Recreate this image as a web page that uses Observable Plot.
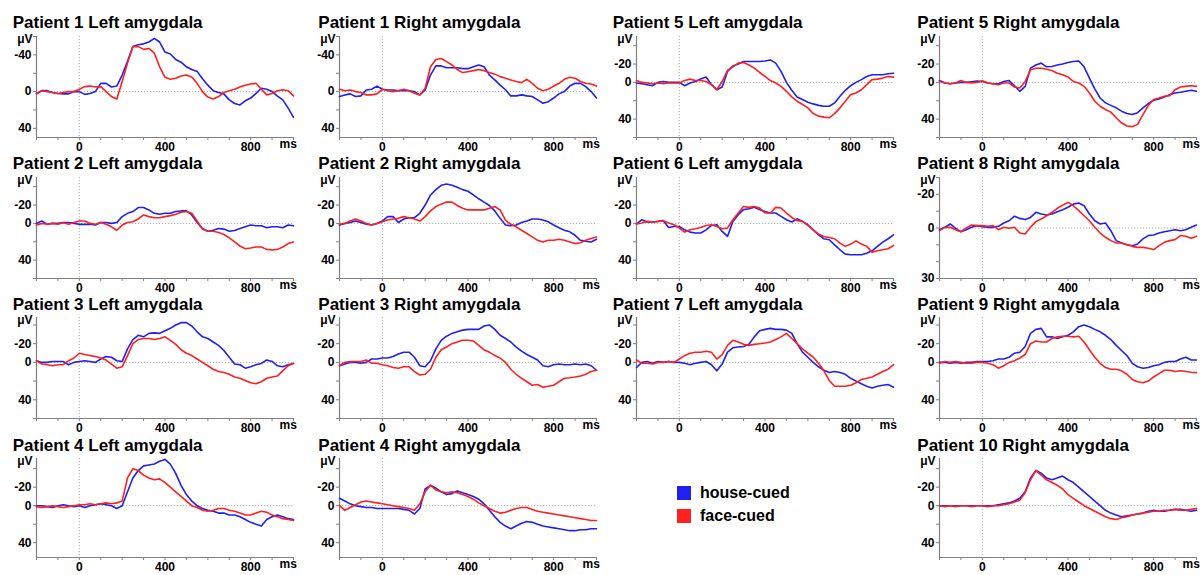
<!DOCTYPE html>
<html><head><meta charset="utf-8">
<script src="https://cdn.jsdelivr.net/npm/d3@7"></script>
<script src="https://cdn.jsdelivr.net/npm/@observablehq/plot@0.6"></script>
<style>
body{margin:0;background:#fff;width:1203px;height:575px;position:relative;overflow:hidden;font-family:"Liberation Sans",Arial,sans-serif;}
.title{position:absolute;font-weight:bold;font-size:17px;line-height:17px;white-space:nowrap;color:#000;}
.panel{position:absolute;}
.panel svg{overflow:visible;}
.leg{position:absolute;font-weight:bold;font-size:16px;line-height:16px;white-space:nowrap;}
.sw{position:absolute;width:14px;height:14px;}
</style></head><body>
<script>
// sample times (ms)
const times = [-200,-175,-150,-125,-100,-75,-50,-25,0,25,50,75,100,125,150,175,200,225,250,275,300,325,350,375,400,425,450,475,500,525,550,575,600,625,650,675,700,725,750,775,800,825,850,875,900,925,950,975,1000];
const xTickValues = [-200,-100,0,100,200,300,400,500,600,700,800,900,1000];
const xTickLabels = [0,400,800];
const seriesNames = ["house-cued","face-cued"];

// values in µV
const p1L_house = [2,-1,-1,1,2,2.5,2.5,0,0, 3,2,0,-9,-9,-5,-6,-18, -33,-49,-51,-52,-54,-58,-54,-43, -41,-35,-32,-27,-24,-22,-14,-7, -1,1,2.5,9,13,14.5,10,7, 2,-3.6,-2.5,0,5,9,18,28];
const p1L_face  = [2.5,-1,0,1,2,1,0,0,-2.5, -5.4,-6,-5,-5.4,0,5.4,8,-11, -31,-49,-49,-46,-47,-42,-27,-15.6, -13.4,-14.5,-17,-18,-16,-9,0,6, 8,5.4,1,-1,-2.5,-5,-7,-8.3, -9,-2.5,3.6,2,-1,-2,-1,4.7];
const p1R_house = [5.4,3.6,2.5,5.4,4.7,-1.8,-2.5,-6,-2.5, -1.8,-1.8,-1,-1,-1,0,3.6,-1.8, -18,-28,-28,-26,-26,-26,-25,-25, -27,-29,-27,-18,-12.7,-7,-2,4.7, 4.7,3.6,4.7,5.4,9,12.7,11,7, 2.5,0,-6,-9,-9,-5.4,0,7];
const p1R_face  = [-2.5,-1,-1.8,0,1,3.6,3.6,2.5,-2.5, -1,0,-1,-2.5,-1,1.8,3.6,-3.6, -27,-35,-36,-32.6,-29,-24,-20.7,-21.7, -22.8,-24,-22.8,-20.7,-19,-16.3,-14.5,-12.7, -11,-9.8,-13.4,-9,-3.6,-1,-2.5,-6, -9,-13.4,-15.6,-14.5,-11,-9,-8.3,-6];
const p5L_house = [0.7,1.4,2.5,3.6,0,-1,0,0,0, 3.6,0.7,-1,-3.6,-5.8,2.5,8,5, -12,-18,-20,-22.7,-22.7,-22.7,-22.7,-23.4, -24.5,-21,-12,0,8.6,15.8,18.7,21.6, 23.4,25,26,26,22.3,15,8.6,3.6, 0,-3,-6.5,-8.3,-8.3,-8.3,-9.4,-10];
const p5L_face  = [-2,0,0.7,1.4,0.7,1.4,0.7,0.7,0.7, -2,-3.6,-2,-2,-1,2.5,8,-1, -13,-17,-21,-21.6,-19,-15.5,-10.8,-6.5, -2,0.7,4.3,9.7,15.8,20.5,24,27.7, 33.8,36.7,37.8,38.5,34,27.7,20.5,13.3, 11.5,8,2.5,-3,-3.6,-4.7,-6.5,-5.8];
const p5R_house = [-2,0.7,1.4,0.7,0,0,-0.7,-1.4,-1, 0.7,1.4,1.4,-1,-2,3.6,9.7,4.3, -15.5,-19,-21,-17,-17.3,-19,-20,-21.6, -22.7,-23.4,-17,-4.7,7,17,22.3,25, 27.7,31.3,33.8,35,33,27.7,23,19.4, 18,15.8,13.3,11.5,10.8,9.7,8.6,9.7];
const p5R_face  = [-1,0.7,1.4,0.7,-2,0,0.7,0,-1.8, 0.7,1.4,2.5,0.7,0.7,5,6,-1, -13.7,-15.5,-15.5,-14.4,-13,-10,-8.3,-5.8, -1,0.7,4.3,11.5,20.5,26,29.5,32.4, 38.5,44,47.5,48.2,45.7,35,25,18.7, 17,15,14.4,8,5,4.3,3.6,4.3];
const p2L_house = [0,-2.6,1,0,0,-1,-1,0,1, 1,1,1.8,-1,-1,0,-1,-7.4, -11,-12.9,-17.3,-17.3,-14.7,-11,-10,-11, -11,-12.9,-13.6,-13.6,-9.2,-1,5.5,8.5, 7.4,5.5,6.2,8.5,7.7,5.5,3.7,1.8, 2.6,2.6,4.8,3.7,3.7,4.8,1.8,2.6];
const p2L_face  = [1.8,0,1,0,1,-0.7,1,-1,-2.6, -2.6,0,1,-1,1,3.7,7.4,1.8, -1,-1.8,-4.8,-9.2,-7.4,-6.2,-6.2,-7.4, -8.5,-10,-12.1,-12.9,-11,-2.6,6.2,8.5, 8.5,10,12.1,15.8,20.2,24.6,27.6,26.8, 25.7,25.7,28.3,29,28.3,25.7,22,20.2];
const p2R_house = [1.8,0,-1,-2.6,-1,1,1.8,0,-2.6, -7.4,-7.4,-1,-4.8,-6.2,-6.2,-11,-20, -31,-36.8,-41.5,-43,-41.5,-39.3,-36.8,-35, -31,-26.8,-23.2,-19.5,-13.6,-5.5,1.8,2.6, 1.8,-1,-2.6,-4.8,-4.8,-3.7,-1.8,1.8, 4.8,7.4,9.2,12.9,18.4,19.5,20.2,17.3];
const p2R_face  = [1,0,-2.6,-4.8,-2.6,0,1.8,0,-1.8, -3.7,-4.8,-5.5,-7.4,-6.2,-4.8,-2.6,-7.4, -13.6,-18.4,-21,-23.2,-23.2,-19.5,-16.5,-14.7, -14.7,-14.7,-14.7,-16.5,-18.4,-14.7,-3.7,1, 3.7,7.4,11,14.7,18.4,20.2,18.4,18.4, 17.3,18.4,20.2,22,21,18.4,16.5,14.7];
const p6L_house = [0.7,-4,-1.5,-1.5,-2,-3,4.4,3.3,3.3, 7,9.5,10.5,10.5,7,2.2,1.5,8.7, 14.2,-2.2,-9.5,-15,-16,-17.5,-15,-13, -11.3,-11.3,-7.6,-4,-1.5,-5,-2.2,1.5, 7,12.4,16.7,17.8,23.3,28.7,33.5,34.2, 34.2,34.2,32.4,29.8,25,20.4,16.7,12.4];
const p6L_face  = [0.7,-0.4,-2.2,-1.5,-2.2,-3,-0.4,1.5,5, 9.5,7,5.8,4.4,2.2,1.5,3.3,5.8, 5,-4,-11.3,-18.5,-17.5,-18.5,-16.7,-11.3, -11.3,-17.5,-16.7,-11.3,-6.5,-3,-2.2,2.2, 7,11.6,14.2,15.3,16.7,21.5,25,22.5, 19,22.5,25,31.3,29.8,28.7,27.6,24];
const p8R_house = [1,-0.4,-2.4,0.2,2.2,1,-0.4,-1.4,-0.8, -0.4,-0.4,-1,-3,-4.3,-7,-5.7,-5, -6.3,-9.3,-8.3,-7.7,-8.3,-9.7,-10.9,-12.3, -14.2,-14.8,-13.2,-8.3,-4.3,-2.4,-3,1.6, 7.5,8.9,10,10.5,9.5,6.5,4.5,4.2, 3,2.2,1.6,1,1.6,1,-0.4,-1.8];
const p8R_face  = [1.6,-0.4,-0.4,1,2.2,0,-1.8,-1.4,-1.4, -1,-1.4,1,-0.4,0.2,-0.4,3,3.6, -0.4,-3.8,-5.3,-7.3,-9.3,-11.7,-13.6,-15.2, -13.2,-10.3,-7.3,-4.3,-0.4,3,5.5,7.5, 8.9,8.9,10,10.9,11.5,11.5,12,12.8, 10.5,8.5,7.5,6.9,4.5,4.9,6.1,4.9];
const p3L_house = [-1.8,0,0,-1,-1,-1,2.5,0,-1, -1.8,-1,0,-3.6,-6.2,-5.5,-1.8,-1, -14.5,-24.4,-29,-27.3,-31,-31.6,-31,-33.8, -36.4,-40,-42.5,-42.5,-38.9,-32.7,-27.3,-25.5, -21.8,-18.2,-12.7,-5.5,1.8,2.5,6.2,4.7, 2.5,1.1,-2.5,-1,3.6,4.7,2.5,1.1];
const p3L_face  = [-1.8,1.8,2.5,3.6,2.5,2.5,-1.8,-4.7,-9.8, -8.4,-7.3,-6.2,-4.7,-2.5,1.8,6.2,4.7, -7.3,-20,-24.4,-25.5,-25.5,-24.4,-25.5,-27.3, -23.6,-19.3,-13.5,-9.8,-7.3,-3.6,0,3.6, 7.3,9.8,10.9,12.7,15.6,17,19.3,21.8, 22.9,20.7,17,15.6,14.5,9,3.6,1];
const p3R_house = [3.6,1.8,0,0,1,0,-3.6,-3.6,-4.7, -4.7,-6.2,-9,-10.9,-10.9,-5.5,3.6,4.7, -1.8,-14.5,-23.6,-28,-31,-32.7,-34.5,-35.3, -35.3,-35.3,-38.9,-40,-35.3,-29,-25.5,-21.8, -16.4,-12,-8.4,-5.5,-2.5,3.6,4.7,2.5, 1.8,2.5,2.5,1.8,2.5,1.8,3.6,8.4];
const p3R_face  = [3.6,0,-1,-1,-1,-2.5,1,1,2.5, 3.6,5.5,6.2,4.7,4.7,9.8,13.5,12.7, 7.3,-5.5,-13.5,-16.4,-20,-21.8,-23.6,-23.6, -22.9,-18.2,-13.5,-10.9,-7.3,-4.7,0,7.3, 12.7,17,20.7,24.4,23.6,26.5,25.5,24.4, 20.7,17,16.4,15.6,14.5,12.7,9.8,8.4];
const p7L_house = [5.5,0,-1,1,-1,0,-1,0,0, 1,2.5,1,0,-1,2.5,9,1.8, -10.9,-15.6,-16.4,-17,-19.3,-27.3,-33.8,-35.3, -36.4,-35.3,-35.3,-34.5,-31,-20,-10.9,-5.5, 0,4.7,8.4,10.9,9.8,10.9,12.7,17, 20,22.9,25.5,27.3,25.5,24.4,23.6,26.5];
const p7L_face  = [-2.5,1,1,1.8,0,0,-1,0,-3.6, -7.3,-9.8,-10.9,-10.9,-12,-10.9,-3.6,-8.4, -18.2,-23.6,-21.8,-19.3,-18.2,-19.3,-20,-20.7, -21.8,-24.4,-27.3,-31,-25.5,-20,-14.5,-9.8, -5.5,1,9,19.3,25.5,25.5,25.5,24.4, 21.8,18.2,17,15.6,12.7,9.8,7.3,2.5];
const p9R_house = [0,0,1,0,1,0,0,-1,-1, -1,-1.8,-3.6,-3.6,-5.5,-9.8,-10.9,-17, -31,-35.3,-36.4,-27.3,-27.3,-25.5,-27.3,-29, -32.7,-38.2,-40,-38.2,-35.3,-32.7,-29,-24.4, -18.2,-12.7,-7.3,1,4.7,6.2,5.5,3.6, 2.5,0,-1,-1,-3.6,-5.5,-2.5,-2.5];
const p9R_face  = [1,-1,0,-1,0,1,1,0,0, 1,2.5,6.2,3.6,0,-1.8,-4.7,-8.4, -20,-22.9,-21.8,-21.8,-25.5,-27.3,-28,-28, -27.3,-28,-21.8,-13.5,-5.5,1,5.5,7.3, 7.3,9,12.7,18.2,20.7,21.8,20,15.6, 12,8.4,8.4,9.8,9,9.8,10.5,10.9];
const p4L_house = [0,0,1,2,0,-1,0,1,0, 2,0,-1,-2,-1,0,3,0, -15,-30,-38,-43,-44,-45,-48,-50, -45,-35,-22,-12,-5,0,3,5, 6,8,8,10,10,12,15,18, 20,22,15,12,10,12,14,15];
const p4L_face  = [1,2,1,0,1,2,1,0,-1, -1,-2,-1,-2,-3,-2,-3,-5, -30,-40,-38,-33,-30,-28,-29,-25, -20,-15,-10,-5,0,2,5,6, 5,3,3,5,6,8,10,10, 8,6,7,10,12,14,15,16];
const p4R_house = [-8,-5,-2,0,1,2,2,3,3, 3,3,3,4,5,9,3,-18, -22,-19,-15,-12,-13,-16,-14,-12, -10,-7,-2,5,12,18,22,25, 22,19,17,18,20,22,23,24, 25,26,27,27,26,26,25,25];
const p4R_face  = [0,5,2,-1,-4,-5,-4,-3,-2, -1,0,1,2,3,5,-2,-15, -22,-17,-15,-14,-15,-14,-12,-10, -7,-3,0,3,6,8,7,5, 3,2,2,4,6,7,8,9, 10,11,12,13,14,15,16,16];
const p10R_house = [0,0,0,0,0,0,0,0,0, 0,0,-1,-2,-3,-5,-8,-15, -30,-38,-35,-30,-28,-30,-32,-28, -25,-20,-15,-10,-5,0,5,8, 10,12,11,10,9,8,6,5, 6,6,5,4,4,5,6,5];
const p10R_face  = [0,1,0,1,0,0,1,0,0, 1,0,0,-1,-2,-4,-6,-14, -28,-38,-33,-28,-25,-22,-18,-12, -8,-4,0,3,6,9,12,14, 15,13,12,10,9,8,7,6, 6,5,5,4,5,5,4,3];

const panels = [
  {title:"Patient 1 Left amygdala",  col:0,row:0,house:p1L_house,face:p1L_face,yDomain:[-60,50],yTicks:[-60,-40,-20,0,20,40],yLabels:[-40,0,40]},
  {title:"Patient 1 Right amygdala", col:1,row:0,house:p1R_house,face:p1R_face,yDomain:[-60,50],yTicks:[-60,-40,-20,0,20,40],yLabels:[-40,0,40]},
  {title:"Patient 5 Left amygdala",  col:2,row:0,house:p5L_house,face:p5L_face,yDomain:[-50,60],yTicks:[-40,-20,0,20,40,60],yLabels:[-20,0,40]},
  {title:"Patient 5 Right amygdala", col:3,row:0,house:p5R_house,face:p5R_face,yDomain:[-50,60],yTicks:[-40,-20,0,20,40,60],yLabels:[-20,0,40]},
  {title:"Patient 2 Left amygdala",  col:0,row:1,house:p2L_house,face:p2L_face,yDomain:[-50,60],yTicks:[-40,-20,0,20,40,60],yLabels:[-20,0,40]},
  {title:"Patient 2 Right amygdala", col:1,row:1,house:p2R_house,face:p2R_face,yDomain:[-50,60],yTicks:[-40,-20,0,20,40,60],yLabels:[-20,0,40]},
  {title:"Patient 6 Left amygdala",  col:2,row:1,house:p6L_house,face:p6L_face,yDomain:[-50,60],yTicks:[-40,-20,0,20,40,60],yLabels:[-20,0,40]},
  {title:"Patient 8 Right amygdala", col:3,row:1,house:p8R_house,face:p8R_face,yDomain:[-30,30],yTicks:[-30,-20,-10,0,10,20,30],yLabels:[-20,0,30]},
  {title:"Patient 3 Left amygdala",  col:0,row:2,house:p3L_house,face:p3L_face,yDomain:[-48,60],yTicks:[-40,-20,0,20,40,60],yLabels:[-20,0,40]},
  {title:"Patient 3 Right amygdala", col:1,row:2,house:p3R_house,face:p3R_face,yDomain:[-48,60],yTicks:[-40,-20,0,20,40,60],yLabels:[-20,0,40]},
  {title:"Patient 7 Left amygdala",  col:2,row:2,house:p7L_house,face:p7L_face,yDomain:[-48,60],yTicks:[-40,-20,0,20,40,60],yLabels:[-20,0,40]},
  {title:"Patient 9 Right amygdala", col:3,row:2,house:p9R_house,face:p9R_face,yDomain:[-48,60],yTicks:[-40,-20,0,20,40,60],yLabels:[-20,0,40]},
  {title:"Patient 4 Left amygdala",  col:0,row:3,house:p4L_house,face:p4L_face,yDomain:[-51,56],yTicks:[-40,-20,0,20,40],yLabels:[-20,0,40]},
  {title:"Patient 4 Right amygdala", col:1,row:3,house:p4R_house,face:p4R_face,yDomain:[-51,56],yTicks:[-40,-20,0,20,40],yLabels:[-20,0,40]},
  {title:"Patient 10 Right amygdala",col:3,row:3,house:p10R_house,face:p10R_face,yDomain:[-51,56],yTicks:[-40,-20,0,20,40],yLabels:[-20,0,40]}
];

// layout
const BLUE = "#2020f0", RED = "#ff2020";
const colAxisX = [36, 339.3, 636, 939.3];
const titleX = [12.7, 318.3, 612.7, 917.3];
const rowTop = [36, 177, 317, 458];
const rowH = [101, 101, 101, 99];
const titleTop = [13.9, 154.6, 296.3, 436.5];
const PW = 257, ML = 36, MR = 6, MT = 10, MB = 18;
const FONT = "'Liberation Sans', Arial, sans-serif";
const AXC = "#808080";

for (const p of panels) {
  const data = [];
  times.forEach((t, i) => {
    data.push({t, v: p.house[i], s: seriesNames[0]});
    data.push({t, v: p.face[i], s: seriesNames[1]});
  });
  const yBottom = p.yDomain[1];
  const PH = rowH[p.row];
  const svg = Plot.plot({
    width: ML + PW + MR, height: MT + PH + MB,
    marginLeft: ML, marginRight: MR, marginTop: MT, marginBottom: MB,
    style: {fontFamily: FONT, fontSize: "12px", fontWeight: "bold", color: "#000", background: "transparent", overflow: "visible"},
    x: {domain: [-200, 1000], label: null},
    y: {domain: p.yDomain, reverse: true, label: null},
    color: {domain: seriesNames, range: [BLUE, RED]},
    marks: [
      Plot.ruleY([0], {stroke: "#aaa", strokeDasharray: "1.2,1.8", strokeWidth: 1}),
      Plot.ruleX([0], {stroke: "#aaa", strokeDasharray: "1.2,1.8", strokeWidth: 1}),
      Plot.axisX({ticks: xTickValues, tickFormat: d => xTickLabels.includes(d) ? String(d) : "", tickSize: 3, tickPadding: 2, stroke: AXC, fill: "#000", label: null}),
      Plot.axisY({ticks: p.yTicks, tickFormat: d => p.yLabels.includes(d) ? String(d) : "", tickSize: 3, tickPadding: 2, stroke: AXC, fill: "#000", label: null}),
      Plot.ruleX([-200], {stroke: AXC, strokeWidth: 1.2}),
      Plot.ruleY([yBottom], {stroke: AXC, strokeWidth: 1.2}),
      Plot.line(data, {x: "t", y: "v", z: "s", stroke: "s", strokeWidth: 1.6}),
      Plot.text(["μV"], {text: d => d, frameAnchor: "top-left", dx: -4, dy: -2, lineAnchor: "top", textAnchor: "end", fill: "#000"}),
      Plot.text([{t: 975, s: "ms"}], {x: "t", text: "s", frameAnchor: "bottom", dy: 10, fill: "#000"})
    ]
  });
  const wrap = document.createElement("div");
  wrap.className = "panel";
  wrap.style.left = (colAxisX[p.col] - ML) + "px";
  wrap.style.top = (rowTop[p.row] - MT) + "px";
  wrap.appendChild(svg);
  document.body.appendChild(wrap);
  const tt = document.createElement("div");
  tt.className = "title";
  tt.style.left = titleX[p.col] + "px";
  tt.style.top = titleTop[p.row] + "px";
  tt.textContent = p.title;
  document.body.appendChild(tt);
}

// legend
const legendItems = [{name: seriesNames[0], color: BLUE, top: 486}, {name: seriesNames[1], color: RED, top: 509}];
for (const it of legendItems) {
  const sw = document.createElement("div");
  sw.className = "sw";
  sw.style.left = "677px"; sw.style.top = it.top + "px"; sw.style.background = it.color;
  document.body.appendChild(sw);
  const tx = document.createElement("div");
  tx.className = "leg";
  tx.style.left = "700px"; tx.style.top = (it.top - 1) + "px";
  tx.textContent = it.name;
  document.body.appendChild(tx);
}
</script>
</body></html>
